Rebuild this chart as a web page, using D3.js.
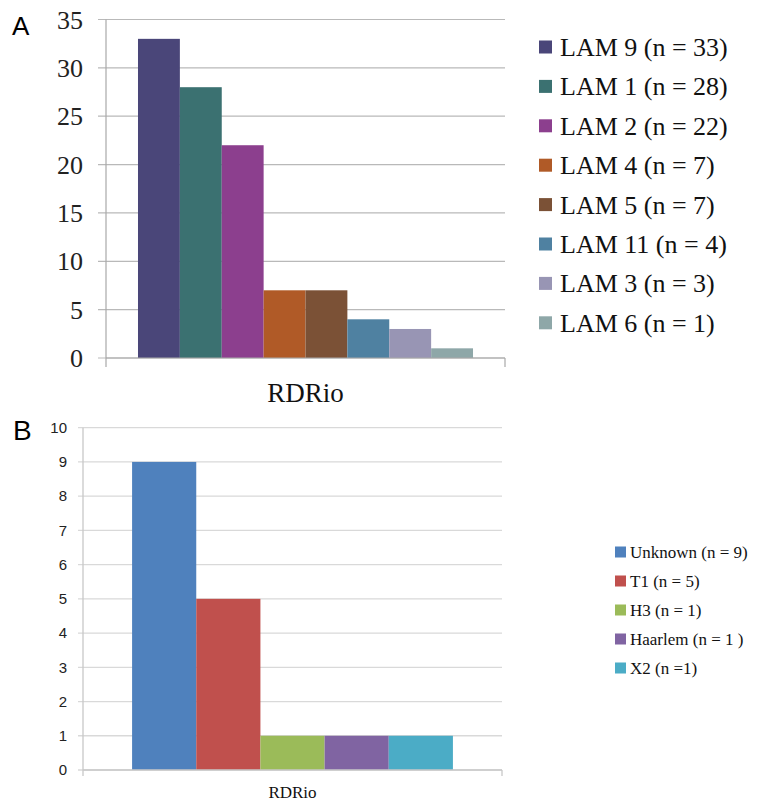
<!DOCTYPE html>
<html>
<head>
<meta charset="utf-8">
<script src="https://cdn.jsdelivr.net/npm/d3@7/dist/d3.min.js"></script>
<style>
  html, body { margin: 0; padding: 0; background: #fff; }
  svg { display: block; }
  .serif { font-family: "Liberation Serif", "Times New Roman", Times, serif; }
  .sans { font-family: "Liberation Sans", Arial, Helvetica, sans-serif; }
</style>
</head>
<body>
<svg id="chart" width="772" height="804"></svg>
<script>
// ---- Panel A data ----
const categoryA = ["RDRio"];
const seriesA = ["LAM 9 (n = 33)", "LAM 1 (n = 28)", "LAM 2 (n = 22)", "LAM 4 (n = 7)", "LAM 5 (n = 7)", "LAM 11 (n = 4)", "LAM 3 (n = 3)", "LAM 6 (n = 1)"];
const valuesA = [33, 28, 22, 7, 7, 4, 3, 1];
const colorsA = ["#4a4679", "#3b7171", "#8c3f8e", "#b05a27", "#7b5136", "#4f81a1", "#9895b4", "#8ea7a8"];
const ticksA = [0, 5, 10, 15, 20, 25, 30, 35];

// ---- Panel B data ----
const categoryB = ["RDRio"];
const seriesB = ["Unknown (n = 9)", "T1 (n = 5)", "H3 (n = 1)", "Haarlem (n = 1 )", "X2 (n =1)"];
const valuesB = [9, 5, 1, 1, 1];
const colorsB = ["#4f81bd", "#c0504d", "#9bbb59", "#8064a2", "#4bacc6"];
const ticksB = [0, 1, 2, 3, 4, 5, 6, 7, 8, 9, 10];

const svg = d3.select("#chart");

function panel(cfg) {
  const g = svg.append("g");
  const y = d3.scaleLinear().domain([0, cfg.ymax]).range([cfg.y0, cfg.y1]);
  const xCat = d3.scaleBand().domain(cfg.categories).range([cfg.x0, cfg.x1])
    .paddingInner(0).paddingOuter(cfg.outerPad);
  const xSer = d3.scaleBand().domain(cfg.series)
    .range([xCat(cfg.categories[0]), xCat(cfg.categories[0]) + xCat.bandwidth()]);

  g.selectAll("line.grid").data(cfg.ticks).join("line")
    .attr("x1", cfg.x0 - cfg.tickOut).attr("x2", cfg.x1)
    .attr("y1", d => y(d)).attr("y2", d => y(d))
    .attr("stroke", cfg.gridColor).attr("stroke-width", cfg.gridWidth);

  g.selectAll("rect.bar").data(cfg.series).join("rect")
    .attr("x", d => xSer(d)).attr("width", xSer.bandwidth())
    .attr("y", (d, i) => y(cfg.values[i]))
    .attr("height", (d, i) => y(0) - y(cfg.values[i]))
    .attr("fill", (d, i) => cfg.colors[i]);

  g.append("line").attr("x1", cfg.x0).attr("x2", cfg.x0)
    .attr("y1", y(cfg.ymax)).attr("y2", y(0) + cfg.tickDown)
    .attr("stroke", cfg.axisColor).attr("stroke-width", cfg.gridWidth);
  g.append("line").attr("x1", cfg.x0).attr("x2", cfg.x1)
    .attr("y1", y(0)).attr("y2", y(0))
    .attr("stroke", cfg.axisColor).attr("stroke-width", cfg.gridWidth);
  g.append("line").attr("x1", cfg.x1).attr("x2", cfg.x1)
    .attr("y1", y(0)).attr("y2", y(0) + cfg.tickDown)
    .attr("stroke", cfg.axisColor).attr("stroke-width", cfg.gridWidth);

  g.selectAll("text.tick").data(cfg.ticks).join("text")
    .attr("class", cfg.tickClass)
    .attr("x", cfg.labelX).attr("y", d => y(d)).attr("dy", "0.35em")
    .attr("text-anchor", "end")
    .style("font-size", cfg.tickSize + "px")
    .attr("fill", "#222").text(d => d);

  g.append("text").attr("class", "serif")
    .attr("x", xCat(cfg.categories[0]) + xCat.bandwidth() / 2).attr("y", cfg.catY)
    .attr("text-anchor", "middle")
    .style("font-size", cfg.catSize + "px")
    .attr("fill", "#111").text(cfg.categories[0]);

  const lg = g.selectAll("g.leg").data(cfg.series).join("g")
    .attr("transform", (d, i) => `translate(${cfg.legX},${cfg.legY + i * cfg.legStep})`);
  lg.append("rect").attr("x", 0).attr("y", -cfg.sq / 2)
    .attr("width", cfg.sq).attr("height", cfg.sq)
    .attr("fill", (d, i) => cfg.colors[i]);
  lg.append("text").attr("class", "serif").attr("x", cfg.textX).attr("y", cfg.textDy)
    .style("font-size", cfg.legSize + "px")
    .attr("fill", "#111").text(d => d);

  g.append("text").attr("class", "sans").attr("x", cfg.letterX).attr("y", cfg.letterY)
    .style("font-size", cfg.letterSize + "px").attr("fill", "#000").text(cfg.letter);
}

panel({
  categories: categoryA, series: seriesA, values: valuesA, colors: colorsA, ticks: ticksA,
  ymax: 35, y0: 358, y1: 19.5, x0: 106, x1: 505, outerPad: 0.0955,
  tickOut: 8, tickDown: 9, gridColor: "#b9b9b9", axisColor: "#a8a8a8", gridWidth: 1.2,
  labelX: 83, tickClass: "serif", tickSize: 26,
  catY: 402, catSize: 27,
  legX: 539, legY: 47, legStep: 39.4, sq: 13, textX: 21, textDy: 9, legSize: 26,
  letter: "A", letterX: 12, letterY: 35, letterSize: 26
});

panel({
  categories: categoryB, series: seriesB, values: valuesB, colors: colorsB, ticks: ticksB,
  ymax: 10, y0: 770, y1: 427.7, x0: 83, x1: 502, outerPad: 0.153,
  tickOut: 5, tickDown: 6, gridColor: "#d9d9d9", axisColor: "#c8c8c8", gridWidth: 1.3,
  labelX: 67, tickClass: "sans", tickSize: 15,
  catY: 798, catSize: 17,
  legX: 615, legY: 552, legStep: 29, sq: 11, textX: 15, textDy: 6, legSize: 17,
  letter: "B", letterX: 13, letterY: 440, letterSize: 28
});
</script>
</body>
</html>
